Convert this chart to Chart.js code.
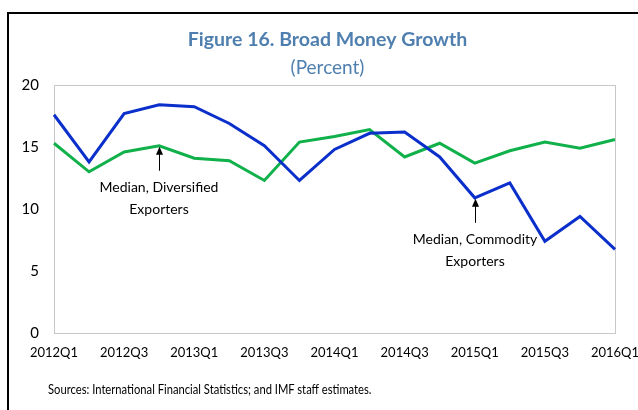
<!DOCTYPE html>
<html>
<head>
<meta charset="utf-8">
<script src="https://cdn.jsdelivr.net/npm/chart.js@4.4.1/dist/chart.umd.min.js"></script>
<style>
  body { margin: 0; background: #fff; }
  #wrap { position: relative; width: 638px; height: 410px; overflow: hidden; }
  #frame { position: absolute; left: 7px; top: 12px; width: 700px; height: 500px; border-left: 2px solid #000; border-top: 2px solid #000; pointer-events: none; }
  #src { position: absolute; left: 48px; top: 380px; font: 14px Lato, sans-serif; color: #000; white-space: nowrap; transform: scaleX(0.8); transform-origin: left center; }
</style>
</head>
<body>
<div id="wrap">
  <div id="frame"></div>
  <canvas id="chart" width="638" height="410"></canvas>
  <div id="src">Sources: International Financial Statistics; and IMF staff estimates.</div>
</div>
<script>
const quarters = ["2012Q1", "2012Q2", "2012Q3", "2012Q4", "2013Q1", "2013Q2", "2013Q3", "2013Q4",
   "2014Q1", "2014Q2", "2014Q3", "2014Q4", "2015Q1", "2015Q2", "2015Q3", "2015Q4", "2016Q1"];

// Median, Commodity Exporters
const commodity = [17.6, 13.8, 17.7, 18.4, 18.25, 16.9, 15.1, 12.3, 14.8, 16.1, 16.2, 14.2, 10.9, 12.1, 7.4, 9.4, 6.75];
// Median, Diversified Exporters
const diversified = [15.3, 13.0, 14.6, 15.1, 14.1, 13.9, 12.3, 15.4, 15.85, 16.4, 14.2, 15.3, 13.7, 14.7, 15.4, 14.9, 15.6];

const yTicks = [0, 5, 10, 15, 20];

const notes = [
   { lines: ["Median, Diversified", "Exporters"], series: 1, index: 3 },
   { lines: ["Median, Commodity", "Exporters"], series: 0, index: 12 }
];

const titleColor = "#4F7FAF";

const annotate = {
   id: "annotate",
   beforeDatasetsDraw(chart) {
      const { ctx, chartArea: a } = chart;
      ctx.save();
      ctx.strokeStyle = "#C8C8C8";
      ctx.lineWidth = 1;
      ctx.strokeRect(a.left + 0.5, a.top + 0.5, a.right - a.left, a.bottom - a.top);
      ctx.restore();
   },
   afterDatasetsDraw(chart) {
      const ctx = chart.ctx;
      const xs = chart.scales.x, ys = chart.scales.y;
      ctx.save();
      notes.forEach(n => {
         const val = chart.data.datasets[n.series].data[n.index];
         const x = Math.round(xs.getPixelForValue(n.index));
         const tip = ys.getPixelForValue(val) + 1;
         const tail = tip + 24;
         ctx.strokeStyle = "#000";
         ctx.fillStyle = "#000";
         ctx.lineWidth = 1;
         ctx.beginPath();
         ctx.moveTo(x + 0.5, tail);
         ctx.lineTo(x + 0.5, tip + 6);
         ctx.stroke();
         ctx.beginPath();
         ctx.moveTo(x + 0.5, tip);
         ctx.lineTo(x - 3, tip + 8);
         ctx.lineTo(x + 4, tip + 8);
         ctx.closePath();
         ctx.fill();
         ctx.font = "14px Lato, sans-serif";
         ctx.textAlign = "center";
         ctx.textBaseline = "middle";
         n.lines.forEach((t, i) => {
            ctx.fillText(t, x, tail + 17 + i * 22);
         });
      });
      ctx.restore();
   }
};

const chart = new Chart(document.getElementById("chart"), {
   type: "line",
   data: {
      labels: quarters,
      datasets: [
         {
            label: "Median, Commodity Exporters",
            data: commodity,
            borderColor: "#0A2FCB",
            borderWidth: 3,
            pointRadius: 0,
            tension: 0,
            fill: false
         },
         {
            label: "Median, Diversified Exporters",
            data: diversified,
            borderColor: "#10B04A",
            borderWidth: 3,
            pointRadius: 0,
            tension: 0,
            fill: false
         }
      ]
   },
   options: {
      responsive: false,
      animation: false,
      events: [],
      layout: { padding: { left: 20, right: 3, top: 0, bottom: 0 } },
      plugins: {
         legend: { display: false },
         tooltip: { enabled: false },
         title: {
            display: true,
            text: "Figure 16. Broad Money Growth",
            color: titleColor,
            font: { family: "Lato", size: 19.5, weight: "bold", lineHeight: 1.2 },
            padding: { top: 28.3, bottom: 0 }
         },
         subtitle: {
            display: true,
            text: "(Percent)",
            color: titleColor,
            font: { family: "Lato", size: 19, lineHeight: 1.2 },
            padding: { top: 4.9, bottom: 5.6 }
         }
      },
      scales: {
         x: {
            grid: { display: false, drawTicks: false },
            border: { display: false },
            ticks: {
               autoSkip: false,
               maxRotation: 0,
               padding: 12,
               color: "#000",
               font: { family: "Lato", size: 13 },
               callback: (v, i) => i % 2 === 0 ? quarters[i] : ""
            },
            afterFit(scale) {
               scale.height = 77;
               scale.paddingLeft = 0;
               scale.paddingRight = 0;
            }
         },
         y: {
            min: 0,
            max: 20,
            grid: { display: false, drawTicks: false },
            border: { display: false },
            afterBuildTicks(scale) {
               scale.ticks = yTicks.map(v => ({ value: v }));
            },
            ticks: {
               padding: 15,
               color: "#000",
               font: { family: "Lato", size: 15 }
            },
            afterFit(scale) {
               scale.width = 34;
               scale.paddingTop = 0;
               scale.paddingBottom = 0;
            }
         },
         // empty right axis, only reserves space so the title centres like the original
         yRight: {
            position: "right",
            min: 0,
            max: 20,
            grid: { display: false, drawTicks: false },
            border: { display: false },
            ticks: { display: false },
            afterFit(scale) {
               scale.width = 20;
               scale.paddingTop = 0;
               scale.paddingBottom = 0;
            }
         }
      }
   },
   plugins: [annotate]
});
</script>
</body>
</html>
